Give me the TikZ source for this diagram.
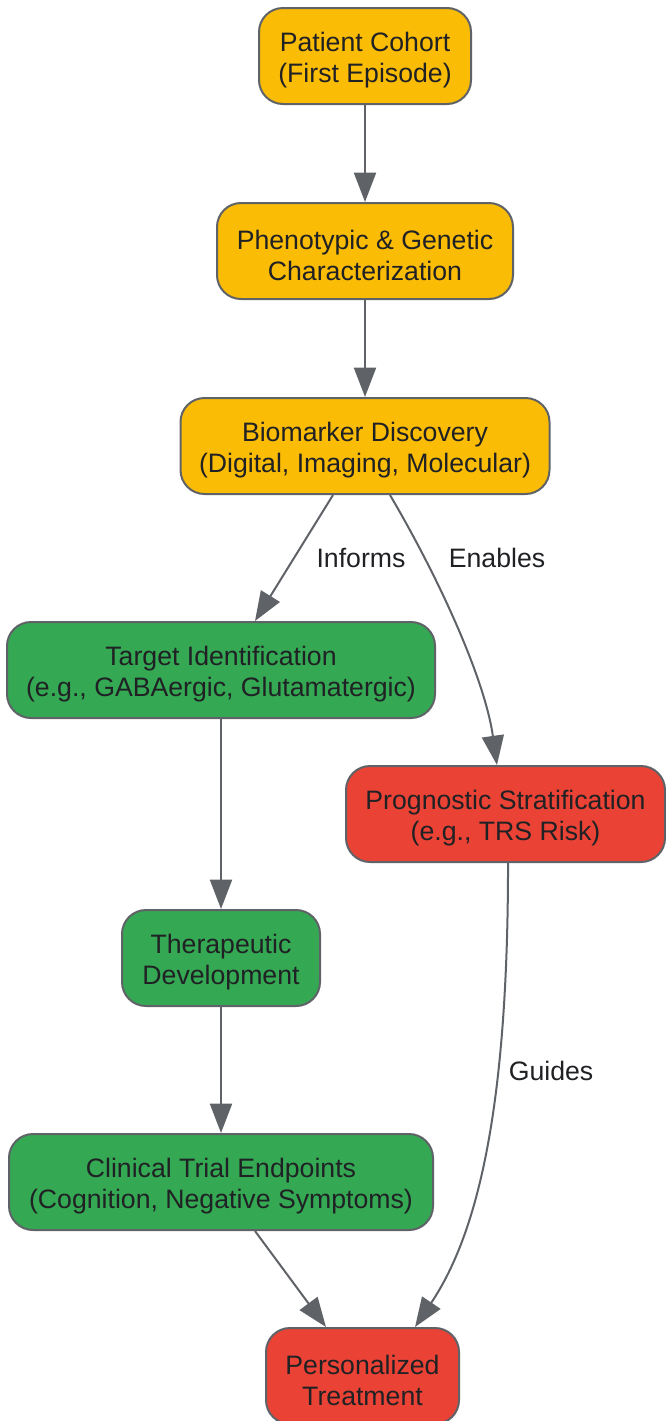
\documentclass[tikz,border=0pt]{standalone}
\usepackage{fontspec}
\setmainfont{Liberation Sans}
\usetikzlibrary{arrows.meta}
\usetikzlibrary{positioning}
\definecolor{amber}{HTML}{FBBC05}
\definecolor{leaf}{HTML}{34A853}
\definecolor{brick}{HTML}{EA4335}
\definecolor{rim}{HTML}{5F6368}
\definecolor{ink}{HTML}{202124}

\begin{document}
\begin{tikzpicture}[x=0.75pt,y=-0.75pt,
  every node/.append style={font=\fontsize{20}{23.25}\selectfont, text=ink, align=center},
  box/.style={draw=rim, line width=1.5pt, rounded corners=18pt, minimum height=72pt, inner sep=0pt,
              execute at begin node={\rule{0pt}{44pt}}},
  link/.style={draw=rim, line width=1.5pt, -{Triangle[length=22pt,width=16.5pt]}}]
  \useasboundingbox (0,0) rectangle (665,1421);
  \node (cohort) [box, fill=amber, minimum width=159pt] at (365,56)
        {Patient Cohort\\(First Episode)};
  \node (pheno) [box, fill=amber, minimum width=222pt, below=72.75pt of cohort]
        {Phenotypic \& Genetic\\Characterization};
  \node (bio) [box, fill=amber, minimum width=276.75pt, below=72.75pt of pheno]
        {Biomarker Discovery\\(Digital, Imaging, Molecular)};
  \node (target) [box, fill=leaf, minimum width=321pt] at (221,670)
        {Target Identification\\(e.g., GABAergic, Glutamatergic)};
  \node (prog) [box, fill=brick, minimum width=239.25pt] at (505.5,814)
        {Prognostic Stratification\\(e.g., TRS Risk)};
  \node (thera) [box, fill=leaf, minimum width=148.5pt, below=142.5pt of target]
        {Therapeutic\\Development};
  \node (clin) [box, fill=leaf, minimum width=318pt, below=94.5pt of thera]
        {Clinical Trial Endpoints\\(Cognition, Negative Symptoms)};
  \node (pers) [box, fill=brick, minimum width=144.75pt] at (362.5,1376)
        {Personalized\\Treatment};

  \node (informs) at (361,558) {Informs};
  \node (enables) at (497,558) {Enables};
  \node (guides) at (551,1071) {Guides};

  \draw[link] (cohort) -- (pheno);
  \draw[link] (pheno) -- (bio);
  \draw[link] ([xshift=-24pt]bio.south) -- ([xshift=25.5pt]target.north);
  \draw[link] ([xshift=18.75pt]bio.south) .. controls (440,580) and (485,680) .. ([xshift=-6.4pt]prog.north);
  \draw[link] (target) -- (thera);
  \draw[link] (thera) -- (clin);
  \draw[link] ([xshift=25.5pt]clin.south) -- ([xshift=-27.4pt]pers.north);
  \draw[link] ([xshift=1.9pt]prog.south) .. controls (508,1100) and (480,1230) .. ([xshift=39.4pt]pers.north);
\end{tikzpicture}
\end{document}
